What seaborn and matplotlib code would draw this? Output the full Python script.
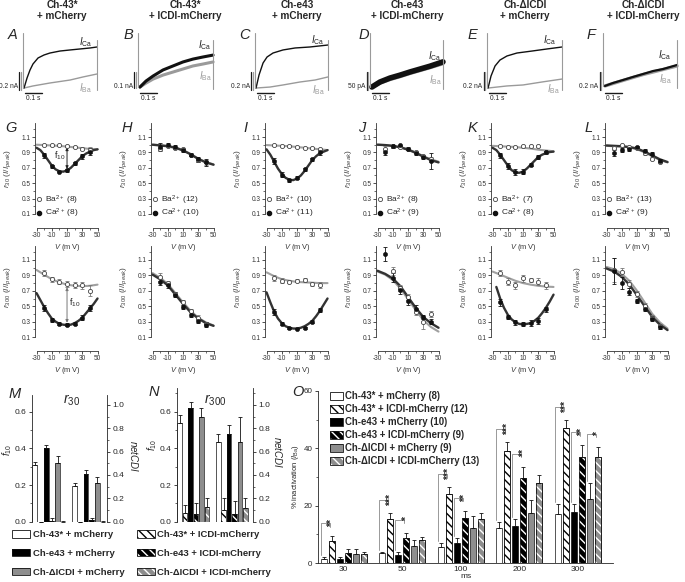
import numpy as np
import pandas as pd
import matplotlib
matplotlib.use("Agg")
import matplotlib.pyplot as plt
from matplotlib import font_manager
from matplotlib.lines import Line2D
from matplotlib.patches import Patch
from matplotlib.ticker import FixedLocator
import seaborn as sns

W, H = 685, 582

# ---------------------------------------------------------------- headings
COL_TITLES = ["Ch-43*\n+ mCherry", "Ch-43*\n+ ICDI-mCherry", "Ch-e43\n+ mCherry",
              "Ch-e43\n+ ICDI-mCherry", "Ch-\u0394ICDI\n+ mCherry",
              "Ch-\u0394ICDI\n+ ICDI-mCherry"]

# ------------------------------------ A-F traces (ms, nA; 0 = holding level)
A_T_CA = [6, 23, 40, 57, 86, 120, 154, 211, 269, 326, 383, 423]
A_I_CA = [-0.567, -0.456, -0.367, -0.300, -0.233, -0.200, -0.178, -0.156, -0.144, -0.133, -0.122, -0.111]
A_T_BA = [6, 57, 154, 269, 343, 423]
A_I_BA = [-0.567, -0.544, -0.511, -0.478, -0.444, -0.411]

B_T = [11, 46, 86, 143, 200, 257, 314, 371, 429]
B_I_CA = [-0.313, -0.275, -0.244, -0.206, -0.181, -0.156, -0.138, -0.125, -0.113]
B_I_BA = [-0.313, -0.288, -0.263, -0.238, -0.219, -0.200, -0.181, -0.169, -0.156]

C_T_CA = [6, 23, 46, 69, 103, 160, 229, 314, 417]
C_I_CA = [-0.567, -0.422, -0.289, -0.222, -0.178, -0.144, -0.122, -0.111, -0.089]
C_T_BA = [6, 86, 160, 257, 343, 417]
C_I_BA = [-0.567, -0.556, -0.533, -0.500, -0.478, -0.444]

D_T = [11, 57, 114, 171, 229, 286, 343, 417]
D_I_CA = [-0.139, -0.125, -0.114, -0.106, -0.097, -0.089, -0.081, -0.069]
D_I_BA = [-0.139, -0.128, -0.118, -0.110, -0.101, -0.093, -0.085, -0.074]

E_T_CA = [6, 23, 46, 74, 114, 171, 257, 343, 429]
E_I_CA = [-0.567, -0.433, -0.322, -0.256, -0.211, -0.178, -0.156, -0.133, -0.111]
E_T_BA = [6, 114, 206, 314, 429]
E_I_BA = [-0.567, -0.544, -0.533, -0.500, -0.467]

F_T = [11, 57, 114, 171, 229, 286, 343, 423]
F_I_CA = [-0.544, -0.511, -0.478, -0.444, -0.411, -0.378, -0.356, -0.311]
F_I_BA = [-0.544, -0.517, -0.483, -0.450, -0.417, -0.389, -0.361, -0.322]

SCALE_NA = [0.2, 0.1, 0.2, 0.05, 0.2, 0.2]
SCALE_TXT = ["0.2 nA", "0.1 nA", "0.2 nA", "50 pA", "0.2 nA", "0.2 nA"]

# --------------------------------------------- G-L: r30 / r300 vs voltage
V_PTS = [-20, -10, 0, 10, 20, 30, 40]
V_FIT10 = [-30, -20, -10, 0, 10, 20, 30, 40, 50]
V_FIT5 = [-30, -25, -20, -15, -10, -5, 0, 5, 10, 15, 20, 25, 30, 35, 40, 45, 50]
N_BA = [8, 12, 10, 8, 7, 13]
N_CA = [8, 10, 11, 9, 8, 9]

R30_BA = [[0.99, 0.99, 0.99, 0.98, 0.97, 0.95, 0.93],
          [0.95, 0.98, 0.96, 0.94, 0.87, 0.80, 0.77],
          [0.99, 0.98, 0.98, 0.97, 0.96, 0.96, 0.94],
          [0.95, 0.98, 0.97, 0.94, 0.90, 0.85, 0.81],
          [0.98, 0.97, 0.97, 0.98, 0.98, 0.98, 0.91],
          [0.96, 1.00, 0.97, 0.96, 0.89, 0.82, 0.78]]
R30_BA_ERR = [[0.01, 0.01, 0.01, 0.01, 0.01, 0.02, 0.04],
              [0.02, 0.01, 0.01, 0.01, 0.01, 0.02, 0.03],
              [0.01, 0.01, 0.01, 0.01, 0.01, 0.01, 0.01],
              [0.03, 0.02, 0.01, 0.01, 0.02, 0.02, 0.03],
              [0.01, 0.01, 0.01, 0.01, 0.01, 0.01, 0.01],
              [0.02, 0.01, 0.01, 0.01, 0.02, 0.02, 0.02]]
R30_CA = [[0.86, 0.72, 0.65, 0.67, 0.76, 0.85, 0.91],
          [0.97, 1.00, 0.97, 0.93, 0.87, 0.81, 0.77],
          [0.79, 0.61, 0.54, 0.57, 0.68, 0.81, 0.90],
          [0.90, 0.98, 0.99, 0.95, 0.89, 0.84, 0.79],
          [0.86, 0.72, 0.64, 0.65, 0.74, 0.84, 0.90],
          [0.89, 0.93, 0.94, 0.97, 0.92, 0.88, 0.79]]
R30_CA_ERR = [[0.03, 0.02, 0.01, 0.02, 0.02, 0.03, 0.05],
              [0.05, 0.02, 0.02, 0.02, 0.02, 0.03, 0.05],
              [0.04, 0.03, 0.02, 0.02, 0.02, 0.02, 0.03],
              [0.04, 0.02, 0.01, 0.02, 0.02, 0.03, 0.10],
              [0.03, 0.04, 0.04, 0.03, 0.02, 0.02, 0.02],
              [0.04, 0.03, 0.02, 0.01, 0.02, 0.02, 0.02]]
R30_BA_FIT = [[1.00, 0.995, 0.99, 0.985, 0.975, 0.965, 0.955, 0.945, 0.94],
              [1.00, 0.995, 0.985, 0.965, 0.93, 0.88, 0.82, 0.775, 0.745],
              [0.995, 0.99, 0.985, 0.98, 0.97, 0.96, 0.95, 0.94, 0.93],
              [1.00, 0.995, 0.985, 0.97, 0.94, 0.90, 0.85, 0.81, 0.78],
              [0.985, 0.98, 0.975, 0.97, 0.96, 0.95, 0.935, 0.925, 0.915],
              [0.985, 0.98, 0.975, 0.965, 0.94, 0.90, 0.85, 0.80, 0.77]]
R30_CA_FIT = [[0.96, 0.93, 0.87, 0.80, 0.73, 0.68, 0.655, 0.65, 0.665, 0.70, 0.75, 0.80, 0.85, 0.885, 0.91, 0.93, 0.94],
              [1.00, 0.99, 0.98, 0.96, 0.925, 0.875, 0.815, 0.77, 0.74],
              [0.94, 0.87, 0.78, 0.69, 0.62, 0.57, 0.545, 0.54, 0.56, 0.60, 0.66, 0.73, 0.80, 0.85, 0.89, 0.91, 0.93],
              [1.00, 0.995, 0.985, 0.965, 0.935, 0.895, 0.845, 0.80, 0.77],
              [0.96, 0.93, 0.87, 0.80, 0.73, 0.67, 0.64, 0.635, 0.65, 0.69, 0.74, 0.79, 0.84, 0.87, 0.89, 0.905, 0.91],
              [0.99, 0.985, 0.98, 0.97, 0.95, 0.91, 0.86, 0.81, 0.775]]

R300_BA = [[0.93, 0.85, 0.82, 0.79, 0.77, 0.77, 0.70],
           [0.88, 0.80, 0.66, 0.55, 0.44, 0.35, 0.27],
           [0.87, 0.83, 0.82, 0.83, 0.84, 0.79, 0.78],
           [np.nan, 0.96, 0.74, 0.62, 0.42, 0.29, 0.40],
           [0.93, 0.82, 0.77, 0.86, 0.84, 0.82, 0.77],
           [0.97, 0.94, 0.79, 0.66, 0.50, 0.35, 0.24]]
R300_BA_ERR = [[0.04, 0.03, 0.03, 0.04, 0.04, 0.05, 0.07],
               [0.05, 0.03, 0.03, 0.03, 0.03, 0.03, 0.03],
               [0.04, 0.03, 0.02, 0.02, 0.02, 0.03, 0.04],
               [0.05, 0.05, 0.04, 0.04, 0.04, 0.08, 0.04],
               [0.04, 0.05, 0.05, 0.04, 0.03, 0.05, 0.05],
               [0.16, 0.05, 0.05, 0.04, 0.04, 0.03, 0.03]]
R300_CA = [[0.48, 0.32, 0.27, 0.26, 0.27, 0.35, 0.48],
           [0.82, 0.77, 0.65, 0.49, 0.39, 0.31, 0.26],
           [0.43, 0.27, 0.22, 0.21, 0.22, 0.30, 0.45],
           [1.18, 0.87, 0.71, 0.57, 0.47, 0.36, 0.30],
           [0.55, 0.36, 0.29, 0.27, 0.28, 0.31, 0.46],
           [0.96, 0.80, 0.69, 0.57, 0.47, 0.34, 0.23]]
R300_CA_ERR = [[0.04, 0.03, 0.02, 0.02, 0.02, 0.03, 0.04],
               [0.05, 0.03, 0.03, 0.03, 0.03, 0.03, 0.03],
               [0.04, 0.02, 0.01, 0.01, 0.01, 0.02, 0.03],
               [0.09, 0.06, 0.05, 0.05, 0.04, 0.03, 0.03],
               [0.05, 0.03, 0.03, 0.03, 0.04, 0.04, 0.03],
               [0.17, 0.08, 0.04, 0.03, 0.03, 0.03, 0.03]]
R300_BA_FIT = [[0.97, 0.91, 0.85, 0.81, 0.78, 0.765, 0.76, 0.765, 0.78],
               [0.93, 0.87, 0.79, 0.67, 0.55, 0.44, 0.35, 0.29, 0.25],
               [0.94, 0.89, 0.85, 0.83, 0.815, 0.81, 0.805, 0.80, 0.80],
               [0.95, 0.91, 0.84, 0.73, 0.59, 0.45, 0.32, 0.23, 0.17],
               [0.95, 0.91, 0.87, 0.83, 0.80, 0.78, 0.765, 0.755, 0.75],
               [1.01, 0.98, 0.92, 0.83, 0.70, 0.55, 0.40, 0.29, 0.21]]
R300_CA_FIT = [[0.67, 0.58, 0.49, 0.41, 0.34, 0.30, 0.27, 0.26, 0.255, 0.26, 0.28, 0.31, 0.35, 0.41, 0.47, 0.53, 0.60],
               [0.91, 0.85, 0.77, 0.65, 0.53, 0.42, 0.34, 0.28, 0.245],
               [0.68, 0.55, 0.43, 0.34, 0.28, 0.24, 0.22, 0.21, 0.21, 0.22, 0.24, 0.27, 0.31, 0.37, 0.44, 0.52, 0.60],
               [0.96, 0.92, 0.86, 0.76, 0.62, 0.48, 0.36, 0.28, 0.22],
               [np.nan, 0.75, 0.60, 0.48, 0.39, 0.33, 0.29, 0.27, 0.265, 0.27, 0.28, 0.31, 0.35, 0.41, 0.48, 0.56, 0.65],
               [0.99, 0.95, 0.88, 0.78, 0.64, 0.50, 0.36, 0.26, 0.19]]

# ----------------------------------------------------------- M, N bars
# order: 43*+mCh, 43*+ICDI, e43+mCh, e43+ICDI, dICDI+mCh, dICDI+ICDI
M_F10 = [0.31, 0.0, 0.40, 0.005, 0.32, 0.0]
M_F10_ERR = [0.015, 0.0, 0.02, 0.015, 0.04, 0.005]
M_NET = [0.31, 0.0, 0.41, 0.016, 0.33, 0.0]
M_NET_ERR = [0.024, 0.0, 0.03, 0.016, 0.055, 0.008]
N_F10 = [0.54, 0.05, 0.62, 0.04, 0.57, 0.08]
N_F10_ERR = [0.04, 0.04, 0.033, 0.06, 0.049, 0.049]
N_NET = [0.68, 0.10, 0.75, 0.07, 0.68, 0.12]
N_NET_ERR = [0.07, 0.10, 0.08, 0.105, 0.215, 0.08]

# ----------------------------------------------------------- O bars
GROUPS = ["Ch-43* + mCherry", "Ch-43* + ICDI-mCherry", "Ch-e43 + mCherry",
          "Ch-e43 + ICDI-mCherry", "Ch-\u0394ICDI + mCherry", "Ch-\u0394ICDI + ICDI-mCherry"]
O_N = [8, 12, 10, 9, 9, 13]
O_MS = ["30", "50", "100", "200", "300"]
O_PCT = [[1.3, 7.7, 1.3, 3.4, 3.1, 3.1],
         [3.4, 15.3, 2.8, 8.6, 6.0, 8.0],
         [5.7, 24.0, 7.1, 15.8, 12.3, 15.3],
         [12.1, 39.0, 13.0, 29.7, 17.5, 27.8],
         [17.0, 46.9, 17.9, 37.0, 22.3, 37.0]]
O_ERR = [[0.7, 1.7, 0.7, 1.5, 1.8, 0.8],
         [0.3, 2.0, 1.1, 2.0, 2.0, 1.0],
         [1.2, 2.4, 1.5, 2.4, 4.2, 2.2],
         [2.1, 3.1, 2.2, 3.9, 4.3, 2.9],
         [3.4, 2.9, 2.5, 4.1, 5.5, 3.5]]
# (time index, control bar, ICDI bar, label)
O_SIG = [(0, 0, 1, "**"), (1, 0, 1, "***"), (1, 2, 3, "*"), (2, 0, 1, "***"), (2, 2, 3, "**"),
         (3, 0, 1, "***"), (3, 2, 3, "**"), (4, 0, 1, "***"), (4, 2, 3, "**"), (4, 4, 5, "*")]

# ---------------------------------------------------------------- style
sns.set_theme(style="ticks")
names = {f.name for f in font_manager.fontManager.ttflist}
NARROW = "Liberation Sans Narrow" in names
BOLD_FAM = ["Liberation Sans Narrow" if NARROW else "Liberation Sans", "DejaVu Sans"]
BS = 1.0 if NARROW else 0.9
plt.rcParams["font.family"] = ["Liberation Sans", "DejaVu Sans"]
plt.rcParams["mathtext.fontset"] = "custom"
plt.rcParams["mathtext.rm"] = "Liberation Sans"
plt.rcParams["mathtext.it"] = "Liberation Sans:italic"
plt.rcParams["mathtext.bf"] = "Liberation Sans:bold"
plt.rcParams["axes.unicode_minus"] = False
plt.rcParams["hatch.linewidth"] = 1.0
plt.rcParams["axes.linewidth"] = 0.6
plt.rcParams["axes.facecolor"] = "none"

GREY = "#8e8e8e"
BA_GREY = "#9a9a9a"
HATCH = "\\\\\\\\"
BASE = ["white", "white", "black", "black", GREY, GREY]
STRIPE = [None, "black", None, "white", None, "white"]

fig = plt.figure(figsize=(W / 100, H / 100), dpi=100)


def add_ax(left, top, width, height):
    return fig.add_axes([left / W, 1 - (top + height) / H, width / W, height / H])


def ftext(x, y, s, **kw):
    fig.text(x / W, 1 - y / H, s, **kw)


# headings and panel letters
for cx, t in zip([62, 185, 297, 407, 525, 643], COL_TITLES):
    ftext(cx, -0.5, t, ha="center", va="top", fontsize=8 * BS, fontweight="bold",
          family=BOLD_FAM, linespacing=1.2)
LETTERS = [("A", 13, 35), ("B", 128, 35), ("C", 245, 35), ("D", 364, 35), ("E", 472, 35),
           ("F", 591, 35), ("G", 11, 128), ("H", 127, 128), ("I", 245, 128), ("J", 362, 128),
           ("K", 472, 128), ("L", 589, 128), ("M", 15, 394), ("N", 154, 392), ("O", 298, 392)]
for s, x, y in LETTERS:
    ftext(x, y, s, ha="center", va="center", fontsize=10.5, style="italic")

# ------------------------------------------------------------ A-F traces
TRACE_X = [23, 138, 255, 370, 487, 603]
SCALE_PX = [18, 16, 18, 18, 18, 18]
MS_PX = 1000 / 175.0
TRACES = [(A_T_CA, A_I_CA, A_T_BA, A_I_BA), (B_T, B_I_CA, B_T, B_I_BA),
          (C_T_CA, C_I_CA, C_T_BA, C_I_BA), (D_T, D_I_CA, D_T, D_I_BA),
          (E_T_CA, E_I_CA, E_T_BA, E_I_BA), (F_T, F_I_CA, F_T, F_I_BA)]
LW = [(1.0, 1.0), (2.2, 2.2), (1.0, 1.0), (4.0, 2.5), (1.0, 1.0), (1.6, 2.4)]
LAB_CA = [(63, 42), (67, 45), (63, 40), (65, 56), (63, 40), (62, 55)]
LAB_BA = [(62, 88), (67, 76), (63, 90), (65, 80), (66, 89), (62, 79)]

for i in range(6):
    x0 = TRACE_X[i]
    k = SCALE_NA[i] / SCALE_PX[i]
    ax = add_ax(x0 - 25, 25, 115, 79)
    ax.set_xlim(-25 * MS_PX, 90 * MS_PX)
    ax.set_ylim(-67 * k, 12 * k)
    ax.axis("off")
    t_ca, i_ca, t_ba, i_ba = TRACES[i]
    lw_ca, lw_ba = LW[i]
    sns.lineplot(x=t_ba, y=i_ba, ax=ax, color=BA_GREY, linewidth=lw_ba, sort=False)
    sns.lineplot(x=t_ca, y=i_ca, ax=ax, color="#111111", linewidth=lw_ca, sort=False)
    # pulse on / off
    ax.plot([0, 0], [4 * k, i_ca[0]], color=BA_GREY, lw=0.8)
    ax.plot([t_ba[-1]] * 2, [-3 * k, i_ca[0] - 2 * k], color=BA_GREY, lw=0.8)
    # scale bars
    ax.plot([-3.5 * MS_PX] * 2, [-35 * k, -(35 + SCALE_PX[i]) * k], color="k", lw=0.9)
    ax.plot([-2 * MS_PX] * 2, [-35 * k, -(35 + SCALE_PX[i]) * k], color=BA_GREY, lw=0.9)
    ax.plot([11, 111], [-56 * k] * 2, color="k", lw=1.0)
    ax.text(61, -62 * k, "0.1 s", ha="center", va="center", fontsize=4.8)
    ax.text(-4.5 * MS_PX, -49 * k, SCALE_TXT[i], ha="right", va="center", fontsize=4.8)
    ax.text(LAB_CA[i][0] * MS_PX, -(LAB_CA[i][1] - 37) * k, r"$I_{\mathrm{Ca}}$",
            ha="center", va="center", fontsize=7, color="#222222")
    ax.text(LAB_BA[i][0] * MS_PX, -(LAB_BA[i][1] - 37) * k, r"$I_{\mathrm{Ba}}$",
            ha="center", va="center", fontsize=7, color=BA_GREY)

# ------------------------------------------------------------ G-L panels
SX = [35, 151, 265, 376, 491, 605]
ROW_BOT = [214, 337]
PX_MV, PX_R = 0.7625, 77
ROWS = [(R30_BA, R30_BA_ERR, R30_CA, R30_CA_ERR, R30_BA_FIT, R30_CA_FIT, "30"),
        (R300_BA, R300_BA_ERR, R300_CA, R300_CA_ERR, R300_BA_FIT, R300_CA_FIT, "300")]

for r, (ba, ba_e, ca, ca_e, ba_fit, ca_fit, sub) in enumerate(ROWS):
    for c in range(6):
        ax = add_ax(SX[c], ROW_BOT[r] - 1.18 * PX_R, 84 * PX_MV, 1.18 * PX_R)
        sns.lineplot(x=V_FIT10, y=ba_fit[c], ax=ax, color="#a0a0a0", linewidth=1.5)
        vf = V_FIT5 if len(ca_fit[c]) == len(V_FIT5) else V_FIT10
        sns.lineplot(x=vf, y=ca_fit[c], ax=ax, color="#333333", linewidth=1.7)
        ax.errorbar(V_PTS, ba[c], yerr=ba_e[c], fmt="none", ecolor="#777777",
                    elinewidth=0.6, capsize=1.3, capthick=0.6, zorder=3)
        ax.errorbar(V_PTS, ca[c], yerr=ca_e[c], fmt="none", ecolor="#111111",
                    elinewidth=0.6, capsize=1.3, capthick=0.6, zorder=3)
        sns.scatterplot(x=V_PTS, y=ba[c], ax=ax, color="white", edgecolor="#444444",
                        s=9, linewidth=0.6, zorder=4)
        sns.scatterplot(x=V_PTS, y=ca[c], ax=ax, color="#111111", edgecolor="#111111",
                        s=9, linewidth=0.4, zorder=5)
        ax.set_xlim(-32, 52)
        ax.set_ylim(0.1, 1.28)
        for sp in ["top", "right"]:
            ax.spines[sp].set_visible(False)
        ax.spines["bottom"].set_position(("outward", 10))
        ax.spines["bottom"].set_bounds(-30, 50)
        for sp in ["left", "bottom"]:
            ax.spines[sp].set_color("#333333")
        ax.xaxis.set_major_locator(FixedLocator([-30, -10, 10, 30, 50]))
        ax.xaxis.set_minor_locator(FixedLocator([-20, 0, 20, 40]))
        ax.yaxis.set_major_locator(FixedLocator([0.1, 0.3, 0.5, 0.7, 0.9, 1.1]))
        ax.yaxis.set_minor_locator(FixedLocator([0.2, 0.4, 0.6, 0.8, 1.0, 1.2]))
        ax.tick_params(which="major", length=2.2, width=0.6, labelsize=4.7, pad=1,
                       colors="#333333")
        ax.tick_params(which="minor", length=1.3, width=0.5, colors="#333333")
        ax.set_xlabel(r"$V$ (m V)", fontsize=5.4, labelpad=2.2, color="#333333")
        ax.set_ylabel(r"$r_{%s}$ ($I$/$I_{peak}$)" % sub, fontsize=6.0, color="#444444")
        ax.yaxis.set_label_coords(-0.35, 0.5 if r == 0 else 0.55)
        if r == 0:
            hb = Line2D([], [], marker="o", ls="none", mfc="white", mec="#444444", ms=3, mew=0.6)
            hc = Line2D([], [], marker="o", ls="none", mfc="#111111", mec="#111111", ms=3)
            ax.legend([hb, hc], ["Ba$^{2+}$ (%d)" % N_BA[c], "Ca$^{2+}$ (%d)" % N_CA[c]],
                      loc="lower left", bbox_to_anchor=(0.03, -0.07), frameon=False,
                      fontsize=6, handlelength=0.6, handletextpad=0.4, labelspacing=0.05,
                      borderpad=0, borderaxespad=0)
        if c == 0:
            if r == 0:
                ax.annotate("", xy=(10, 0.685), xytext=(10, 0.965),
                            arrowprops=dict(arrowstyle="<|-|>", color="#222222", lw=0.7,
                                            mutation_scale=4, shrinkA=0, shrinkB=0))
                ax.text(8, 0.86, r"f$_{10}$", ha="right", va="center", fontsize=6.5)
            else:
                ax.annotate("", xy=(10, 0.285), xytext=(10, 0.745),
                            arrowprops=dict(arrowstyle="<|-|>", color="#777777", lw=0.7,
                                            mutation_scale=4, shrinkA=0, shrinkB=0))
                ax.text(12, 0.55, r"f$_{10}$", ha="left", va="center", fontsize=6.5)


# ------------------------------------------------------------ bar helpers
def bar(ax, x, h, w, j):
    ax.bar(x, h, w, color=BASE[j], edgecolor="none", linewidth=0, align="edge")
    if STRIPE[j] is not None:
        ax.bar(x, h, w, color="none", edgecolor=STRIPE[j], hatch=HATCH, linewidth=0,
               align="edge")
    ax.bar(x, h, w, color="none", edgecolor="#111111", linewidth=0.5, align="edge")


def bar_handle(j):
    parts = [Patch(facecolor=BASE[j], edgecolor="none", linewidth=0)]
    if STRIPE[j] is not None:
        parts.append(Patch(facecolor="none", edgecolor=STRIPE[j], hatch=HATCH, linewidth=0))
    parts.append(Patch(facecolor="none", edgecolor="#111111", linewidth=0.6))
    return tuple(parts)


# ------------------------------------------------------------ M, N
RATIO = 1.57
MN = [(32, 75, 13.2, 7.0, 0.69, M_F10, M_F10_ERR, M_NET, M_NET_ERR, "30", 72),
      (177, 76, 14.0, 7.1, 0.73, N_F10, N_F10_ERR, N_NET, N_NET_ERR, "300", 215)]
for left, width, xmax, off, ytop, f10, f10_e, net, net_e, sub, tx in MN:
    ax = add_ax(left, 521.7 - ytop * 183.3, width, ytop * 183.3)
    ax2 = ax.twinx()
    xs1 = [s + 0.07 for s in range(6)]
    xs2 = [off + s + 0.07 for s in range(6)]
    for j in range(6):
        bar(ax, xs1[j], f10[j], 0.86, j)
        bar(ax2, xs2[j], net[j], 0.86, j)
    ax.errorbar([x + 0.43 for x in xs1], f10, yerr=[[0] * 6, f10_e], fmt="none",
                ecolor="#111111", elinewidth=0.6, capsize=1.4, capthick=0.6)
    ax2.errorbar([x + 0.43 for x in xs2], net, yerr=[[0] * 6, net_e], fmt="none",
                 ecolor="#111111", elinewidth=0.6, capsize=1.4, capthick=0.6)
    ax.set_xlim(0, xmax)
    ax.set_ylim(0, ytop)
    ax2.set_ylim(0, ytop * RATIO)
    for a in (ax, ax2):
        a.spines["top"].set_visible(False)
        a.spines["bottom"].set_visible(False)
        a.set_xticks([])
        a.tick_params(which="major", length=2.5, width=0.6, labelsize=6, pad=1.5)
        a.tick_params(which="minor", length=1.5, width=0.5)
    ax.spines["right"].set_visible(False)
    ax2.spines["left"].set_visible(False)
    ax.yaxis.set_major_locator(FixedLocator([0.0, 0.2, 0.4, 0.6]))
    ax.yaxis.set_minor_locator(FixedLocator([0.1, 0.3, 0.5, 0.7]))
    ax2.yaxis.set_major_locator(FixedLocator([0.0, 0.2, 0.4, 0.6, 0.8, 1.0]))
    ax2.yaxis.set_minor_locator(FixedLocator([0.1, 0.3, 0.5, 0.7, 0.9, 1.1]))
    ax.set_ylabel(r"$f_{10}$", fontsize=7)
    ax.yaxis.set_label_coords(-18 / width, 0.57)
    ax2.set_ylabel(r"$netCDI$", fontsize=7, rotation=270, va="bottom")
    ax2.yaxis.set_label_coords(1 + 21 / width if sub == "30" else 1 + 19 / width, 0.52)
    ftext(tx, 400, r"$r_{%s}$" % sub, ha="center", va="center", fontsize=10)

order = [0, 2, 4, 1, 3, 5]
fig.legend([bar_handle(j) for j in order], [GROUPS[j] for j in order],
           loc="upper left", bbox_to_anchor=(12 / W, 1 - 530 / H), ncol=2,
           frameon=False, prop={"family": BOLD_FAM, "weight": "bold", "size": 6.8},
           handlelength=1.9, handleheight=0.85, handletextpad=0.3, labelspacing=1.05,
           columnspacing=1.3, borderpad=0, borderaxespad=0)

# ------------------------------------------------------------ O
o_df = pd.DataFrame({"ms": [m for m in O_MS for _ in GROUPS],
                     "group": GROUPS * len(O_MS),
                     "pct": [v for row in O_PCT for v in row]})
ax = add_ax(318, 563 - 60 * 2.87, 295, 60 * 2.87)
sns.barplot(data=o_df, x="ms", y="pct", hue="group", order=O_MS, hue_order=GROUPS,
            palette=dict(zip(GROUPS, BASE)), saturation=1, width=0.82, gap=0.25,
            edgecolor="#111111", linewidth=0.5, errorbar=None, legend=False, ax=ax)
bar_conts = list(ax.containers)
geo = {}
for j, cont in enumerate(bar_conts):
    for g, p in enumerate(cont.patches):
        geo[(g, j)] = (p.get_x(), p.get_width(), p.get_height())
for j in range(len(GROUPS)):
    for g in range(len(O_MS)):
        x, w, h = geo[(g, j)]
        if STRIPE[j] is not None:
            ax.bar(x, h, w, align="edge", color="none", edgecolor=STRIPE[j], hatch=HATCH,
                   linewidth=0)
            ax.bar(x, h, w, align="edge", color="none", edgecolor="#111111", linewidth=0.5)
    xs = [geo[(g, j)][0] + geo[(g, j)][1] / 2 for g in range(len(O_MS))]
    hs = [geo[(g, j)][2] for g in range(len(O_MS))]
    es = [O_ERR[g][j] for g in range(len(O_MS))]
    ax.errorbar(xs, hs, yerr=[[0] * len(es), es], fmt="none", ecolor="#111111",
                elinewidth=0.6, capsize=1.4, capthick=0.6)
for g, a, b, stars in O_SIG:
    xa, wa, ha_ = geo[(g, a)]
    xb, wb, hb_ = geo[(g, b)]
    ya = ha_ + O_ERR[g][a] + 0.8
    ytop = hb_ + O_ERR[g][b] + 4.5
    xe = xb + 0.15 * wb
    ax.plot([xa, xa, xe, xe], [ya, ytop, ytop, ytop - 1.2], color="#999999", lw=0.7)
    ax.text(xb + 0.55 * wb, hb_ + O_ERR[g][b] + 4.6, stars, rotation=90, ha="center",
            va="center", fontsize=7.5, fontweight="bold")
ax.set_xlim(-0.44, 4.6)
ax.set_ylim(0, 60)
sns.despine(ax=ax)
ax.yaxis.set_major_locator(FixedLocator([0, 20, 40, 60]))
ax.yaxis.set_minor_locator(FixedLocator([10, 30, 50]))
ax.tick_params(axis="y", which="major", length=2.5, width=0.6, labelsize=5.8, pad=1.5)
ax.tick_params(axis="y", which="minor", length=1.5, width=0.5)
ax.tick_params(axis="x", length=0, labelsize=6, pad=2)
ax.set_xlabel("ms", fontsize=6, labelpad=0)
ax.set_ylabel(r"% inactivation ($I_{\mathrm{Ba}}$)", fontsize=5.5, labelpad=2)
fig.legend([bar_handle(j) for j in range(6)],
           ["%s (%d)" % (GROUPS[j], O_N[j]) for j in range(6)],
           loc="upper left", bbox_to_anchor=(330 / W, 1 - 391 / H), frameon=False,
           prop={"family": BOLD_FAM, "weight": "bold", "size": 6.9},
           handlelength=1.35, handleheight=0.9, handletextpad=0.25, labelspacing=0.32,
           borderpad=0, borderaxespad=0)

fig.savefig("out.png", dpi=100)
